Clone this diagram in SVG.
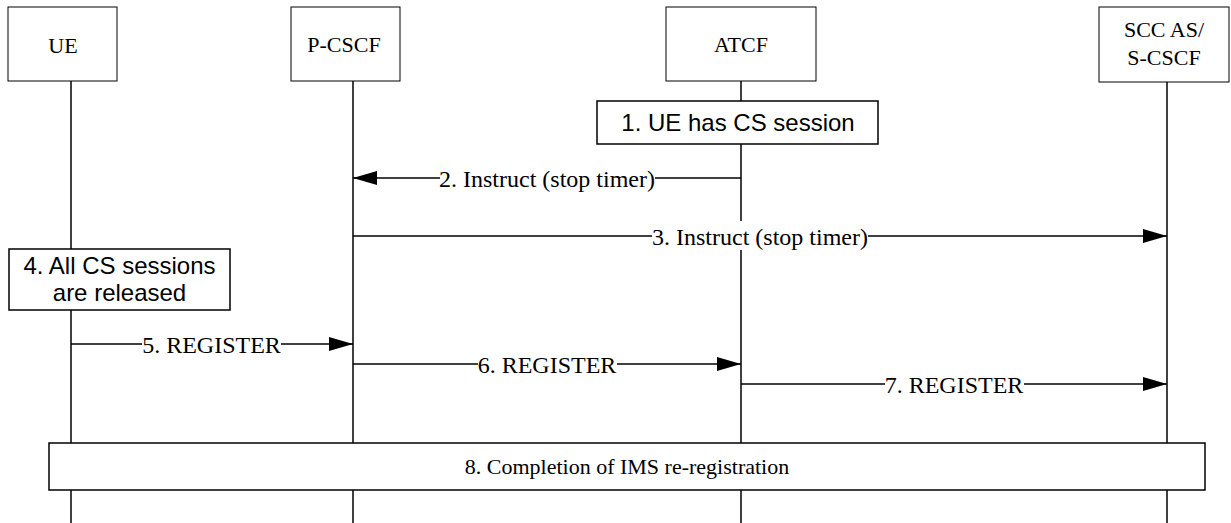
<svg xmlns="http://www.w3.org/2000/svg" width="1231" height="523" viewBox="0 0 1231 523">
<style>
.hdr{fill:#fff;stroke:#000;stroke-width:1}
.note{fill:#fff;stroke:#000;stroke-width:1.5}
.life{stroke:#000;stroke-width:1.5;fill:none}
.msg{stroke:#000;stroke-width:1.5;fill:none;marker-end:url(#ah)}
.serif{font-family:"Liberation Serif","Times New Roman",serif;font-size:22px;fill:#000;text-anchor:middle}
.lbl{font-family:"Liberation Serif","Times New Roman",serif;font-size:24px;fill:#000;text-anchor:middle}
.sans{font-family:"Liberation Sans",Arial,sans-serif;font-size:24px;fill:#000;text-anchor:middle}
.bg{fill:#fff;stroke:none}
</style>
<defs>
<marker id="ah" markerUnits="userSpaceOnUse" markerWidth="24" markerHeight="16" refX="24" refY="7" orient="auto">
<path d="M0,0 L24,7 L0,14 Z" fill="#000"/>
</marker>
</defs>
<rect width="1231" height="523" fill="#fff"/>
<g id="lifelines">
<line class="life" x1="71" y1="81" x2="71" y2="523"/>
<line class="life" x1="353" y1="81" x2="353" y2="523"/>
<line class="life" x1="741" y1="81" x2="741" y2="523"/>
<line class="life" x1="1167" y1="82" x2="1167" y2="523"/>
</g>
<g id="ue"><rect class="hdr" x="8" y="7" width="109" height="74"/><text class="serif" x="63" y="53">UE</text></g>
<g id="pcscf"><rect class="hdr" x="291" y="7" width="109" height="74"/><text class="serif" x="344" y="52">P-CSCF</text></g>
<g id="atcf"><rect class="hdr" x="666" y="7" width="150" height="74"/><text class="serif" x="741" y="52">ATCF</text></g>
<g id="sccas"><rect class="hdr" x="1099" y="7" width="130" height="75"/><text class="serif" x="1164" y="37">SCC AS/</text><text class="serif" x="1164" y="65">S-CSCF</text></g>
<g id="step1"><rect class="note" x="597" y="101" width="281" height="43"/><text class="sans" x="738" y="131">1. UE has CS session</text></g>
<g id="step4"><rect class="note" x="9" y="249" width="221" height="61"/><text class="sans" x="119.5" y="274">4. All CS sessions</text><text class="sans" x="119.5" y="301">are released</text></g>
<g id="connectors">
<line class="msg" x1="741" y1="178" x2="353" y2="178"/>
<rect class="bg" x="440" y="166" width="215" height="26"/>
<text class="lbl" x="547" y="187">2. Instruct (stop timer)</text>
<line class="msg" x1="353" y1="236" x2="1167" y2="236"/>
<rect class="bg" x="652" y="221" width="216" height="29"/>
<text class="lbl" x="760" y="245">3. Instruct (stop timer)</text>
<line class="msg" x1="71" y1="344" x2="353" y2="344"/>
<rect class="bg" x="142" y="332" width="139" height="26"/>
<text class="lbl" x="211.5" y="353">5. REGISTER</text>
<line class="msg" x1="353" y1="364" x2="741" y2="364"/>
<rect class="bg" x="478" y="352" width="139" height="26"/>
<text class="lbl" x="547" y="373">6. REGISTER</text>
<line class="msg" x1="741" y1="384" x2="1167" y2="384"/>
<rect class="bg" x="885" y="372" width="139" height="26"/>
<text class="lbl" x="954" y="393">7. REGISTER</text>
</g>
<g id="step8"><rect class="note" x="49" y="443" width="1156" height="47"/><text class="serif" x="627" y="474">8. Completion of IMS re-registration</text></g>
</svg>
